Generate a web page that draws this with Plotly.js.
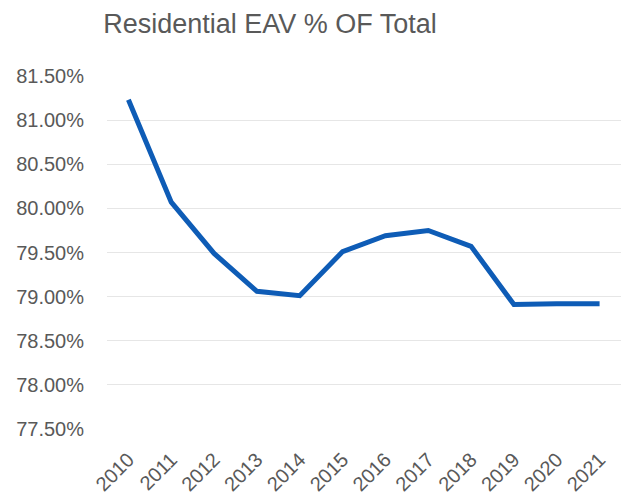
<!DOCTYPE html>
<html>
<head>
<meta charset="utf-8">
<script src="https://cdn.plot.ly/plotly-3.0.1.min.js"></script>
<style>html,body{margin:0;padding:0;background:#fff;}#chart{width:625px;height:504px;}</style>
</head>
<body>
<div id="chart"></div>
<script>
const years = ["2010","2011","2012","2013","2014","2015","2016","2017","2018","2019","2020","2021"];
const residentialPct = [81.23, 80.07, 79.49, 79.06, 79.01, 79.51, 79.69, 79.75, 79.57, 78.91, 78.92, 78.92];
const yTickValues = [77.5, 78.0, 78.5, 79.0, 79.5, 80.0, 80.5, 81.0, 81.5];
const yTickLabels = ["77.50%","78.00%","78.50%","79.00%","79.50%","80.00%","80.50%","81.00%","81.50%"];

const trace = {
  x: years,
  y: residentialPct,
  type: 'scatter',
  mode: 'lines',
  line: {color: '#0e5cb6', width: 5},
  hoverinfo: 'x+y'
};

const layout = {
  width: 625,
  height: 504,
  margin: {l: 107, r: 4, t: 76, b: 75},
  paper_bgcolor: '#ffffff',
  plot_bgcolor: '#ffffff',
  showlegend: false,
  title: {
    text: 'Residential EAV % OF Total',
    font: {family: 'Liberation Sans, Arial, sans-serif', size: 27, color: '#595959'},
    xref: 'container', x: 270/625, xanchor: 'center',
    yref: 'container', y: 1 - 24/504, yanchor: 'middle'
  },
  xaxis: {
    type: 'category',
    range: [-0.5, 11.5],
    tickangle: -45,
    tickfont: {family: 'Liberation Sans, Arial, sans-serif', size: 20, color: '#595959'},
    showgrid: false,
    zeroline: false,
    showline: false,
    ticks: '',
    ticklabelstandoff: 14
  },
  yaxis: {
    range: [77.5, 81.5],
    tickmode: 'array',
    tickvals: yTickValues,
    ticktext: yTickLabels,
    tickfont: {family: 'Liberation Sans, Arial, sans-serif', size: 20, color: '#595959'},
    showgrid: true,
    gridcolor: '#e6e6e6',
    gridwidth: 1,
    zeroline: false,
    showline: false,
    ticks: '',
    ticklabelstandoff: 22
  }
};

Plotly.newPlot('chart', [trace], layout, {displayModeBar: false, staticPlot: true});
</script>
</body>
</html>
